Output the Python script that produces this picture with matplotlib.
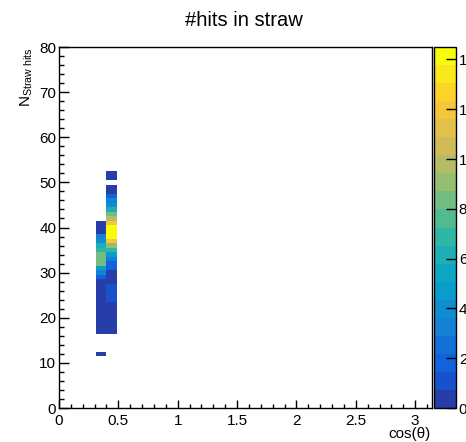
import matplotlib
matplotlib.use("Agg")
import matplotlib.pyplot as plt
import numpy as np
from matplotlib.colors import LinearSegmentedColormap, ListedColormap, BoundaryNorm
from matplotlib.ticker import MultipleLocator, FormatStrFormatter

plt.rcParams['font.family'] = ['Liberation Sans', 'DejaVu Sans']
plt.rcParams['mathtext.fontset'] = 'custom'
plt.rcParams['mathtext.rm'] = 'Liberation Sans'
plt.rcParams['mathtext.it'] = 'Liberation Sans'

# x bin edges (cos(theta)) of the two filled columns
x_edges = [0.31, 0.40, 0.49]
# y bin centres, one per N_straw hits value
y_centres = list(range(12, 53))

# bin contents per y bin (12 ... 52), left column
left_counts = [0.7, 0, 0, 0, 0,                                 # 12-16
               0.7, 0.7, 0.7, 0.7, 0.7, 0.7, 0.7, 0.7, 0.7, 0.7,  # 17-26
               0.7, 0.7, 2, 3, 5, 8, 8, 8, 7, 6,                # 27-36
               4, 3, 0.7, 0.7, 0.7, 0, 0, 0, 0, 0,              # 37-46
               0, 0, 0, 0, 0, 0]                                # 47-52
# right column
right_counts = [0, 0, 0, 0, 0,                                    # 12-16
                0.7, 0.7, 0.7, 0.7, 0.7, 0.7, 0.7, 1.4, 1.4, 1.4,  # 17-26
                1.4, 0.7, 0.7, 0.7, 2, 2, 3, 5, 7, 9,              # 27-36
                12, 14, 14, 14, 12, 10, 8, 6, 4, 3,                # 37-46
                2, 0.7, 0.7, 0, 0.7, 0.7]                          # 47-52

z_max = 14.5
n_levels = 20

# ROOT kBird palette
stops = [0.0, 0.125, 0.25, 0.375, 0.5, 0.625, 0.75, 0.875, 1.0]
red = [0.2082, 0.0592, 0.0780, 0.0232, 0.1802, 0.5301, 0.8186, 0.9956, 0.9764]
green = [0.1664, 0.3599, 0.5041, 0.6419, 0.7178, 0.7492, 0.7328, 0.7862, 0.9832]
blue = [0.5293, 0.8684, 0.8385, 0.7914, 0.6425, 0.4662, 0.3499, 0.1968, 0.0539]
bird = LinearSegmentedColormap.from_list(
    'bird', [(s, (r, g, b)) for s, r, g, b in zip(stops, red, green, blue)], N=255)
level_cols = [bird(int((i + 0.99) * 255 / n_levels) / 254.0) for i in range(n_levels)]
cmap = ListedColormap(level_cols)
norm = BoundaryNorm(np.linspace(0, z_max, n_levels + 1), n_levels)

y_edges = np.arange(y_centres[0] - 0.5, y_centres[-1] + 1.0, 1.0)
z = np.ma.masked_equal(np.array([left_counts, right_counts], dtype=float).T, 0)

W, H = 466, 442
fig = plt.figure(figsize=(W / 100, H / 100), dpi=100)
ax = fig.add_axes([59 / W, 34 / H, 373 / W, 361 / H])
cax = fig.add_axes([434 / W, 34 / H, 22 / W, 361 / H])

mesh = ax.pcolormesh(x_edges, y_edges, z, cmap=cmap, norm=norm)

ax.set_xlim(0, np.pi)
ax.set_ylim(0, 80)
ax.xaxis.set_major_locator(MultipleLocator(0.5))
ax.xaxis.set_minor_locator(MultipleLocator(0.1))
ax.xaxis.set_major_formatter(FormatStrFormatter('%g'))
ax.yaxis.set_major_locator(MultipleLocator(10))
ax.yaxis.set_minor_locator(MultipleLocator(2))
ax.tick_params(axis='x', which='major', direction='in', length=6, width=1, labelsize=11, pad=4)
ax.tick_params(axis='x', which='minor', direction='in', length=3, width=1)
ax.tick_params(axis='y', which='major', direction='in', length=7, width=1, labelsize=11, pad=2)
ax.tick_params(axis='y', which='minor', direction='in', length=3.5, width=1)
for sp in ax.spines.values():
    sp.set_linewidth(1)

cb = fig.colorbar(mesh, cax=cax, ticks=np.arange(0, 15, 2))
cb.ax.tick_params(direction='in', length=7, width=1, labelsize=11, pad=2)
cb.ax.minorticks_off()
cb.outline.set_linewidth(1)
cb.ax.set_yticklabels([str(v) for v in range(0, 15, 2)])

fig.text(244 / W, 1 - 20 / H, '#hits in straw', ha='center', va='center', fontsize=14.5)
fig.text(431 / W, 1 - 434 / H, 'cos(θ)', ha='right', va='center', fontsize=11)
fig.text(27 / W, 1 - 47 / H, r'N$_{\mathrm{Straw\ hits}}$', ha='center', va='top',
         rotation=90, fontsize=11)

fig.savefig('out.png', dpi=100)
